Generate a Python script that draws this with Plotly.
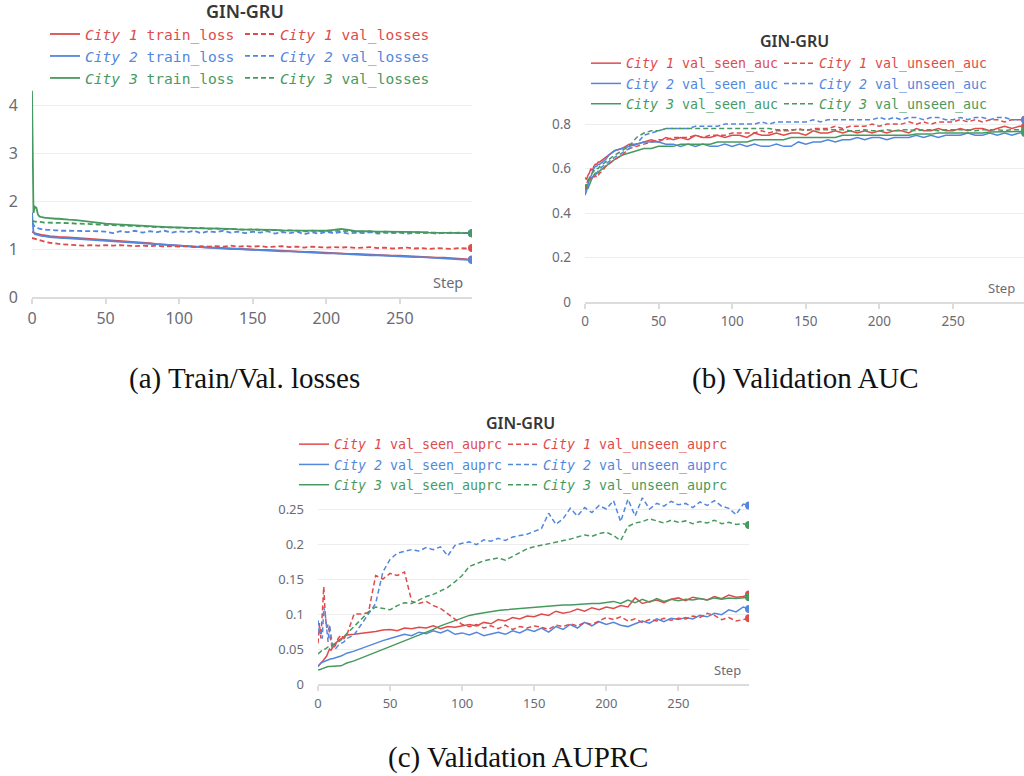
import plotly.graph_objects as go

# ---------------- data ----------------
steps = list(range(0, 11)) + [12, 14, 16, 18, 20] + list(range(25, 300, 5)) + [299]

cities = ["City 1", "City 2", "City 3"]
colors = ["#df4b4b", "#5387dd", "#479a5f"]

# (a) losses
a_train_c1 = [1.36, 1.34, 1.33, 1.32, 1.31, 1.30, 1.30, 1.29, 1.29, 1.28, 1.28,
              1.27, 1.27, 1.26, 1.25, 1.25,
              1.24, 1.23, 1.22, 1.21, 1.20, 1.19,
              1.175, 1.165, 1.155, 1.14, 1.13, 1.12, 1.10, 1.09, 1.08, 1.06,
              1.05, 1.05, 1.04, 1.03, 1.03, 1.02, 1.01, 1.00, 1.00, 0.99,
              0.98, 0.98, 0.97, 0.96, 0.96, 0.95, 0.94, 0.94, 0.93, 0.92,
              0.92, 0.91, 0.90, 0.90, 0.89, 0.88, 0.88, 0.87, 0.86, 0.86,
              0.85, 0.84, 0.84, 0.83, 0.82, 0.82, 0.81, 0.80, 0.79,
              0.78]
a_train_c2 = [1.76, 1.35, 1.31, 1.30, 1.29, 1.28, 1.28, 1.27, 1.27, 1.26, 1.26,
              1.25, 1.25, 1.24, 1.23, 1.23,
              1.22, 1.21, 1.20, 1.19, 1.18, 1.17,
              1.16, 1.15, 1.14, 1.13, 1.12, 1.11, 1.10, 1.09, 1.07, 1.06,
              1.05, 1.04, 1.03, 1.03, 1.02, 1.01, 1.00, 1.00, 0.99, 0.98,
              0.97, 0.97, 0.96, 0.95, 0.95, 0.94, 0.93, 0.93, 0.92, 0.91,
              0.91, 0.90, 0.89, 0.89, 0.88, 0.87, 0.87, 0.86, 0.85, 0.85,
              0.84, 0.83, 0.83, 0.82, 0.81, 0.80, 0.80, 0.79, 0.78,
              0.77]
a_train_c3 = [4.30, 1.75, 1.88, 1.86, 1.72, 1.68, 1.67, 1.66, 1.66, 1.65, 1.65,
              1.64, 1.64, 1.63, 1.63, 1.62,
              1.61, 1.60, 1.58, 1.56, 1.55, 1.53,
              1.52, 1.51, 1.50, 1.49, 1.48, 1.48, 1.47, 1.46, 1.45, 1.45,
              1.44, 1.44, 1.43, 1.43, 1.43, 1.42, 1.42, 1.41, 1.41, 1.41,
              1.40, 1.40, 1.40, 1.39, 1.39, 1.39, 1.39, 1.38, 1.38, 1.38,
              1.40, 1.42, 1.40, 1.37, 1.37, 1.36, 1.36, 1.36, 1.36, 1.35,
              1.35, 1.35, 1.35, 1.34, 1.34, 1.34, 1.34, 1.33, 1.33,
              1.33]
a_val_c1 = [1.23, 1.22, 1.21, 1.20, 1.19, 1.18, 1.17, 1.16, 1.16, 1.15, 1.14,
            1.13, 1.12, 1.11, 1.10, 1.10,
            1.09, 1.08, 1.07, 1.08, 1.07, 1.08,
            1.07, 1.08, 1.07, 1.06, 1.07, 1.06, 1.07, 1.05, 1.06, 1.05,
            1.06, 1.04, 1.06, 1.05, 1.06, 1.05, 1.07, 1.05, 1.06, 1.05,
            1.06, 1.04, 1.05, 1.06, 1.04, 1.05, 1.03, 1.05, 1.04, 1.03,
            1.04, 1.03, 1.04, 1.02, 1.03, 1.04, 1.02, 1.03, 1.01, 1.02,
            1.03, 1.01, 1.02, 1.00, 1.02, 1.01, 1.00, 1.02, 1.01,
            1.02]
a_val_c2 = [1.55, 1.50, 1.46, 1.44, 1.43, 1.42, 1.42, 1.41, 1.41, 1.40, 1.40,
            1.40, 1.39, 1.39, 1.39, 1.38,
            1.38, 1.38, 1.37, 1.38, 1.37, 1.36,
            1.33, 1.37, 1.35, 1.38, 1.34, 1.37, 1.35, 1.38, 1.34, 1.37,
            1.35, 1.38, 1.33, 1.37, 1.35, 1.38, 1.34, 1.36, 1.33, 1.36,
            1.34, 1.37, 1.32, 1.35, 1.33, 1.36, 1.31, 1.35, 1.32, 1.36,
            1.33, 1.35, 1.32, 1.34, 1.33, 1.35, 1.32, 1.34, 1.33, 1.34,
            1.32, 1.34, 1.33, 1.35, 1.32, 1.34, 1.33, 1.34, 1.33,
            1.33]
a_val_c3 = [1.57, 1.58, 1.57, 1.57, 1.56, 1.56, 1.56, 1.56, 1.55, 1.55, 1.55,
            1.55, 1.55, 1.55, 1.54, 1.54,
            1.54, 1.53, 1.53, 1.52, 1.51, 1.50,
            1.50, 1.49, 1.48, 1.48, 1.47, 1.47, 1.46, 1.45, 1.45, 1.44,
            1.44, 1.43, 1.44, 1.42, 1.43, 1.41, 1.42, 1.41, 1.40, 1.41,
            1.40, 1.39, 1.40, 1.38, 1.39, 1.38, 1.37, 1.38, 1.37, 1.37,
            1.38, 1.37, 1.38, 1.36, 1.36, 1.37, 1.35, 1.36, 1.35, 1.35,
            1.35, 1.34, 1.35, 1.34, 1.34, 1.33, 1.34, 1.33, 1.33,
            1.33]

# (b) AUC
b_seen_c1 = [0.56, 0.55, 0.57, 0.58, 0.60, 0.59, 0.61, 0.62, 0.62, 0.63, 0.63,
             0.64, 0.65, 0.66, 0.67, 0.68,
             0.69, 0.71, 0.71, 0.72, 0.73, 0.72,
             0.74, 0.73, 0.74, 0.73, 0.75, 0.74, 0.74, 0.75, 0.74, 0.75,
             0.75, 0.74, 0.76, 0.75, 0.75, 0.76, 0.75, 0.76, 0.76, 0.75,
             0.77, 0.76, 0.76, 0.77, 0.76, 0.77, 0.76, 0.77, 0.76, 0.77,
             0.76, 0.77, 0.77, 0.76, 0.78, 0.77, 0.77, 0.78, 0.77, 0.77,
             0.78, 0.77, 0.78, 0.78, 0.77, 0.78, 0.79, 0.78, 0.79,
             0.79]
b_seen_c2 = [0.49, 0.50, 0.53, 0.55, 0.57, 0.59, 0.60, 0.61, 0.61, 0.62, 0.62,
             0.63, 0.64, 0.66, 0.67, 0.68,
             0.69, 0.70, 0.71, 0.72, 0.72, 0.72,
             0.71, 0.71, 0.70, 0.71, 0.70, 0.71, 0.70, 0.70, 0.71, 0.70,
             0.71, 0.70, 0.71, 0.70, 0.70, 0.71, 0.70, 0.70, 0.72, 0.71,
             0.72, 0.72, 0.73, 0.72, 0.73, 0.73, 0.74, 0.73, 0.74, 0.74,
             0.73, 0.74, 0.74, 0.74, 0.75, 0.74, 0.75, 0.74, 0.75, 0.75,
             0.75, 0.76, 0.75, 0.75, 0.76, 0.75, 0.76, 0.75, 0.76,
             0.76]
b_seen_c3 = [0.53, 0.51, 0.51, 0.53, 0.55, 0.56, 0.57, 0.58, 0.58, 0.58, 0.59,
             0.60, 0.61, 0.62, 0.63, 0.64,
             0.66, 0.67, 0.68, 0.69, 0.69, 0.70,
             0.70, 0.70, 0.71, 0.71, 0.71, 0.71, 0.71, 0.72, 0.72, 0.72,
             0.72, 0.72, 0.73, 0.73, 0.73, 0.73, 0.73, 0.74, 0.74, 0.74,
             0.74, 0.74, 0.74, 0.74, 0.75, 0.75, 0.75, 0.75, 0.75, 0.75,
             0.75, 0.75, 0.75, 0.75, 0.755, 0.755, 0.755, 0.76, 0.76, 0.76,
             0.76, 0.76, 0.76, 0.76, 0.765, 0.765, 0.765, 0.765, 0.767,
             0.767]
b_unseen_c1 = [0.50, 0.52, 0.55, 0.54, 0.56, 0.55, 0.56, 0.57, 0.56, 0.57, 0.58,
               0.59, 0.61, 0.62, 0.63, 0.64,
               0.66, 0.69, 0.70, 0.71, 0.72, 0.73,
               0.73, 0.74, 0.74, 0.74, 0.75, 0.74, 0.75, 0.75, 0.75, 0.76,
               0.76, 0.76, 0.76, 0.77, 0.76, 0.77, 0.77, 0.77, 0.78, 0.77,
               0.78, 0.78, 0.78, 0.79, 0.78, 0.79, 0.79, 0.79, 0.80, 0.79,
               0.80, 0.80, 0.80, 0.81, 0.80, 0.81, 0.80, 0.81, 0.81, 0.81,
               0.82, 0.81, 0.82, 0.81, 0.82, 0.82, 0.81, 0.82, 0.82,
               0.82]
b_unseen_c2 = [0.48, 0.50, 0.52, 0.53, 0.55, 0.56, 0.57, 0.57, 0.58, 0.59, 0.60,
               0.61, 0.62, 0.63, 0.64, 0.65,
               0.67, 0.69, 0.71, 0.75, 0.76, 0.77,
               0.78, 0.78, 0.78, 0.78, 0.79, 0.79, 0.79, 0.79, 0.80, 0.80,
               0.80, 0.80, 0.80, 0.81, 0.80, 0.81, 0.81, 0.81, 0.81, 0.81,
               0.82, 0.81, 0.82, 0.82, 0.82, 0.82, 0.82, 0.82, 0.82, 0.83,
               0.82, 0.83, 0.82, 0.83, 0.83, 0.82, 0.83, 0.83, 0.82, 0.82,
               0.83, 0.82, 0.83, 0.83, 0.82, 0.83, 0.83, 0.82, 0.82,
               0.82]
b_unseen_c3 = [0.51, 0.53, 0.55, 0.56, 0.57, 0.58, 0.59, 0.59, 0.60, 0.60, 0.61,
               0.62, 0.63, 0.64, 0.65, 0.66,
               0.68, 0.70, 0.74, 0.76, 0.77, 0.77,
               0.78, 0.78, 0.78, 0.78, 0.78, 0.78, 0.78, 0.78, 0.78, 0.78,
               0.78, 0.78, 0.78, 0.78, 0.78, 0.775, 0.775, 0.775, 0.775, 0.775,
               0.775, 0.775, 0.775, 0.775, 0.775, 0.77, 0.77, 0.775, 0.77, 0.77,
               0.775, 0.77, 0.775, 0.775, 0.77, 0.775, 0.775, 0.77, 0.775, 0.775,
               0.775, 0.775, 0.77, 0.775, 0.775, 0.775, 0.77, 0.775, 0.775,
               0.775]

# (c) AUPRC
c_seen_c1 = [0.025, 0.028, 0.030, 0.032, 0.035, 0.038, 0.040, 0.045, 0.050, 0.048, 0.052,
             0.058, 0.062, 0.065, 0.068, 0.070,
             0.071, 0.072, 0.074, 0.075, 0.077, 0.078,
             0.076, 0.080, 0.079, 0.081, 0.080, 0.083, 0.079, 0.082, 0.081, 0.083,
             0.085, 0.083, 0.088, 0.086, 0.092, 0.090, 0.095, 0.093, 0.097, 0.096,
             0.100, 0.098, 0.104, 0.101, 0.103, 0.107, 0.104, 0.109, 0.106, 0.110,
             0.108, 0.112, 0.110, 0.123, 0.115, 0.118, 0.120, 0.116, 0.121, 0.123,
             0.119, 0.124, 0.122, 0.120, 0.125, 0.122, 0.127, 0.124, 0.125,
             0.128]
c_seen_c2 = [0.025, 0.028, 0.030, 0.031, 0.032, 0.033, 0.034, 0.035, 0.035, 0.036, 0.036,
             0.037, 0.039, 0.040, 0.042, 0.044,
             0.047, 0.051, 0.055, 0.059, 0.062, 0.065,
             0.068, 0.071, 0.069, 0.074, 0.072, 0.076, 0.073, 0.077, 0.071, 0.073,
             0.070, 0.074, 0.069, 0.072, 0.074, 0.071, 0.076, 0.073, 0.078, 0.075,
             0.080, 0.074, 0.082, 0.078, 0.085, 0.080, 0.088, 0.083, 0.089, 0.085,
             0.088, 0.084, 0.082, 0.086, 0.090, 0.087, 0.093, 0.089, 0.094, 0.092,
             0.095, 0.093, 0.098, 0.096, 0.101, 0.099, 0.106, 0.103, 0.110,
             0.107]
c_seen_c3 = [0.020, 0.020, 0.021, 0.022, 0.023, 0.024, 0.024, 0.025, 0.025, 0.025, 0.025,
             0.025, 0.025, 0.026, 0.028, 0.030,
             0.033, 0.037, 0.041, 0.045, 0.049, 0.053,
             0.057, 0.061, 0.065, 0.069, 0.073, 0.078, 0.083, 0.087, 0.091, 0.095,
             0.098, 0.100, 0.102, 0.104, 0.105, 0.106, 0.107, 0.108, 0.109, 0.110,
             0.111, 0.111, 0.112, 0.113, 0.113, 0.114, 0.114, 0.115, 0.115, 0.116,
             0.118, 0.115, 0.120, 0.116, 0.121, 0.117, 0.122, 0.118, 0.121, 0.119,
             0.121, 0.120, 0.122, 0.120, 0.123, 0.121, 0.123, 0.122, 0.123,
             0.124]
c_unseen_c1 = [0.058, 0.087, 0.065, 0.100, 0.139, 0.100, 0.080, 0.085, 0.070, 0.060, 0.050,
               0.055, 0.065, 0.070, 0.065, 0.070,
               0.100, 0.100, 0.102, 0.155, 0.150, 0.158,
               0.155, 0.160, 0.118, 0.115, 0.118, 0.112, 0.108, 0.100, 0.093, 0.085,
               0.082, 0.085, 0.080, 0.083, 0.079, 0.084, 0.078, 0.082, 0.080, 0.083,
               0.081, 0.078, 0.084, 0.082, 0.086, 0.083, 0.088, 0.085, 0.090, 0.095,
               0.092, 0.096, 0.090, 0.093, 0.088, 0.092, 0.090, 0.094, 0.091, 0.094,
               0.093, 0.097, 0.095, 0.101, 0.098, 0.092, 0.095, 0.090, 0.092,
               0.094]
c_unseen_c2 = [0.091, 0.070, 0.075, 0.065, 0.110, 0.100, 0.080, 0.060, 0.085, 0.070, 0.055,
               0.050, 0.055, 0.058, 0.060, 0.065,
               0.070, 0.085, 0.100, 0.115, 0.160, 0.178,
               0.187, 0.190, 0.192, 0.190, 0.195, 0.192, 0.196, 0.183, 0.198, 0.201,
               0.203, 0.199, 0.206, 0.204, 0.208, 0.205, 0.210, 0.212, 0.214, 0.218,
               0.222, 0.244, 0.228, 0.236, 0.251, 0.240, 0.252, 0.245, 0.255, 0.250,
               0.262, 0.232, 0.264, 0.240, 0.266, 0.250, 0.258, 0.254, 0.261, 0.256,
               0.258, 0.252, 0.260, 0.255, 0.262, 0.254, 0.251, 0.242, 0.257,
               0.255]
c_unseen_c3 = [0.043, 0.045, 0.046, 0.048, 0.050, 0.050, 0.052, 0.053, 0.054, 0.055, 0.055,
               0.058, 0.060, 0.063, 0.068, 0.072,
               0.082, 0.092, 0.103, 0.110, 0.108, 0.106,
               0.112, 0.116, 0.115, 0.120, 0.125, 0.128, 0.133, 0.138, 0.146, 0.155,
               0.168, 0.172, 0.176, 0.178, 0.180, 0.177, 0.182, 0.188, 0.193, 0.196,
               0.198, 0.200, 0.202, 0.205, 0.207, 0.210, 0.213, 0.211, 0.215, 0.217,
               0.212, 0.205, 0.225, 0.230, 0.232, 0.236, 0.233, 0.230, 0.234, 0.231,
               0.233, 0.229, 0.232, 0.230, 0.234, 0.229, 0.231, 0.228, 0.229,
               0.227]

a_solid = [a_train_c1, a_train_c2, a_train_c3]
a_dash = [a_val_c1, a_val_c2, a_val_c3]
b_solid = [b_seen_c1, b_seen_c2, b_seen_c3]
b_dash = [b_unseen_c1, b_unseen_c2, b_unseen_c3]
c_solid = [c_seen_c1, c_seen_c2, c_seen_c3]
c_dash = [c_unseen_c1, c_unseen_c2, c_unseen_c3]

for grp in (a_solid, a_dash, b_solid, b_dash, c_solid, c_dash):
    for s in grp:
        assert len(s) == len(steps), len(s)

# ---------------- figure ----------------
W, H = 1024, 776
TICK = "#6b6b76"
GRID = "#ededed"
AXL = "#dcdcdc"
MONO = "DejaVu Sans Mono"
SANS = "Noto Sans"
DASH = "5px,3px"


def px(xp):
    return xp / W


def py(yp):
    return 1 - yp / H


charts = [
    dict(xa="x", ya="y", solid=a_solid, dash=a_dash, sname="train_loss", dname="val_losses",
         legs=("legend", "legend2"), lw=1.8),
    dict(xa="x2", ya="y2", solid=b_solid, dash=b_dash, sname="val_seen_auc", dname="val_unseen_auc",
         legs=("legend3", "legend4"), lw=1.5),
    dict(xa="x3", ya="y3", solid=c_solid, dash=c_dash, sname="val_seen_auprc", dname="val_unseen_auprc",
         legs=("legend5", "legend6"), lw=1.5),
]

fig = go.Figure()


def label(city, metric, col):
    return f'<span style="color:{col}"><i>{city}</i> {metric}</span>'


for ch in charts:
    for series, nm, leg, dash in ((ch["solid"], ch["sname"], ch["legs"][0], "solid"),
                                  (ch["dash"], ch["dname"], ch["legs"][1], DASH)):
        for i, vals in enumerate(series):
            fig.add_trace(go.Scatter(
                x=steps, y=vals, mode="lines", name=label(cities[i], nm, colors[i]),
                line=dict(color=colors[i], width=ch["lw"], dash=dash),
                xaxis=ch["xa"], yaxis=ch["ya"], legend=leg, hoverinfo="skip"))
    # end-point dots
    for series in (ch["solid"], ch["dash"]):
        for i, vals in enumerate(series):
            fig.add_trace(go.Scatter(
                x=[steps[-1]], y=[vals[-1]], mode="markers", showlegend=False,
                marker=dict(color=colors[i], size=8),
                xaxis=ch["xa"], yaxis=ch["ya"], hoverinfo="skip"))


def xax(domain, rng, anchor, fs):
    return dict(domain=domain, range=rng, anchor=anchor, showgrid=False, zeroline=False,
                showline=True, linecolor=AXL, linewidth=2, ticks="outside", ticklen=5,
                tickwidth=1.5, tickcolor=AXL, tick0=0, dtick=50, fixedrange=True,
                automargin=False,
                tickfont=dict(family=SANS, size=fs, color=TICK), ticklabelstandoff=1)


def yax(domain, rng, anchor, dtick, fs):
    return dict(domain=domain, range=rng, anchor=anchor, showgrid=True, gridcolor=GRID,
                gridwidth=1, zeroline=False, showline=False, ticks="", tick0=0, dtick=dtick,
                fixedrange=True, automargin=False,
                tickfont=dict(family=SANS, size=fs, color=TICK), ticklabelstandoff=13)


fig.update_layout(
    width=W, height=H, autosize=False,
    margin=dict(l=0, r=0, t=0, b=0, pad=0, autoexpand=False),
    paper_bgcolor="white", plot_bgcolor="white",
    xaxis=xax([px(32), px(472)], [0, 299], "y", 16),
    yaxis=yax([py(297), py(90.6)], [0, 4.3], "x", 1, 16),
    xaxis2=xax([px(585), 1.0], [0, 298.2], "y2", 13.5),
    yaxis2=yax([py(302), py(113)], [0, 0.85], "x2", 0.2, 13.5),
    xaxis3=xax([px(318), px(749)], [0, 299], "y3", 13),
    yaxis3=yax([py(684), py(495)], [0, 0.27], "x3", 0.05, 13),
)

leg_common = dict(orientation="v", xanchor="left", yanchor="top", bgcolor="rgba(0,0,0,0)",
                  borderwidth=0, itemclick=False, itemdoubleclick=False)
leg_pos = {
    "legend": (45, 18, 14.6), "legend2": (240, 18, 14.6),
    "legend3": (586, 48, 13.3), "legend4": (779, 48, 13.3),
    "legend5": (294, 429, 13.3), "legend6": (503, 429, 13.3),
}
for key, (lx, ly, fs) in leg_pos.items():
    fig.update_layout(**{key: dict(x=px(lx), y=py(ly), font=dict(family=MONO, size=fs), **leg_common)})

annotations = []
# titles
for cx, cy, fs in ((245, 11, 18), (794, 41, 16), (520, 423, 16)):
    annotations.append(dict(text="GIN-GRU", x=px(cx), y=py(cy), xref="paper", yref="paper",
                            xanchor="center", yanchor="middle", showarrow=False,
                            font=dict(family=SANS, size=fs, color="#363636", weight=600)))
# "Step" labels
for xr, yr, fs in (("x domain", "y domain", 14.5), ("x2 domain", "y2 domain", 13),
                   ("x3 domain", "y3 domain", 13)):
    annotations.append(dict(text="Step", x=0.985, y=0, xref=xr, yref=yr, xanchor="right",
                            yanchor="bottom", yshift=3, showarrow=False,
                            font=dict(family=SANS, size=fs, color=TICK)))
# captions
for txt, cx, cy in (("(a) Train/Val. losses", 244, 378), ("(b) Validation AUC", 805, 378),
                    ("(c) Validation AUPRC", 518, 757)):
    annotations.append(dict(text=txt, x=px(cx), y=py(cy), xref="paper", yref="paper",
                            xanchor="center", yanchor="middle", showarrow=False,
                            font=dict(family="Liberation Serif", size=29, color="#111111")))
fig.update_layout(annotations=annotations)

fig.write_html("out.html", config={"displayModeBar": False},
               post_script="document.body.style.margin='0';document.body.style.overflow='hidden';")
